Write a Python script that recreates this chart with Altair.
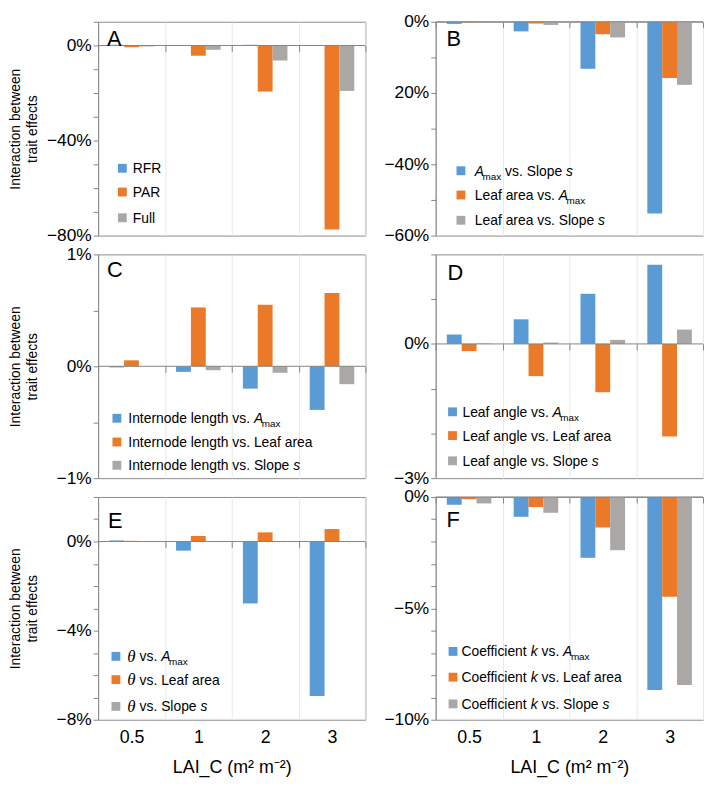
import altair as alt
import pandas as pd

# ---------------- data (values in %) ----------------
lai_labels = ["0.5", "1", "2", "3"]
series_keys = ["s1", "s2", "s3"]
series_colors = ["#5b9bd5", "#ea7a28", "#aaa7a5"]

a_rfr = [0.3, 0.2, 0.3, 0.1]
a_par = [-0.7, -4.3, -19.4, -77.4]
a_full = [-0.4, -1.8, -6.3, -19.1]

b_amax_slope = [-0.6, -2.7, -13.2, -53.8]
b_area_amax = [-0.2, -0.5, -3.5, -15.8]
b_area_slope = [-0.2, -0.9, -4.4, -17.7]

c_il_amax = [-0.01, -0.05, -0.2, -0.39]
c_il_area = [0.053, 0.526, 0.55, 0.655]
c_il_slope = [0.0, -0.035, -0.058, -0.16]

d_la_amax = [0.21, 0.55, 1.12, 1.77]
d_la_area = [-0.16, -0.72, -1.08, -2.07]
d_la_slope = [0.01, 0.03, 0.09, 0.32]

e_th_amax = [0.05, -0.41, -2.78, -6.94]
e_th_area = [0.03, 0.25, 0.41, 0.56]
e_th_slope = [0.0, 0.0, 0.0, 0.0]

f_k_amax = [-0.35, -0.89, -2.73, -8.66]
f_k_area = [-0.1, -0.45, -1.37, -4.48]
f_k_slope = [-0.29, -0.71, -2.39, -8.44]

y_title = ["Interaction between", "trait effects"]
x_title = "LAI_C (m² m⁻²)"

# ---------------- styling ----------------
FRAME = "#8c8c8c"
GRAY = "#858585"
GRID = "#e8e8e8"
W = 270

AW = {' ': 278, '.': 278, 'A': 667, 'C': 722, 'F': 611, 'I': 278, 'L': 556, 'P': 667,
      'R': 722, 'S': 667, 'a': 556, 'c': 500, 'd': 556, 'e': 556, 'f': 278, 'g': 556,
      'h': 556, 'i': 222, 'k': 500, 'l': 222, 'm': 833, 'n': 556, 'o': 556, 'p': 556,
      'r': 333, 's': 500, 't': 278, 'u': 556, 'v': 500, 'x': 500}
STYLE = {
    'n': dict(size=14, dy=5, font='Liberation Sans', fontStyle='normal'),
    'i': dict(size=14, dy=5, font='Liberation Sans', fontStyle='italic'),
    'sub': dict(size=10, dy=9, font='Liberation Sans', fontStyle='normal'),
    'th': dict(size=17, dy=5.5, font='Liberation Serif', fontStyle='italic'),
}


def seg_width(style, s):
    if style == 'th':
        return 8.5 * len(s)
    return sum(AW.get(c, 556) for c in s) * STYLE[style]['size'] / 1000


PANELS = {
    'A': dict(vals=[a_rfr, a_par, a_full], lo=-80, hi=10, step=10,
              labels={0: '0%', -40: '−40%', -80: '−80%'}, H=216, letter=(9, 24),
              lg_sx=24.5, lg_tx=35, lg_rows=[68, 44, 18],
              legend=[[('n', 'RFR')], [('n', 'PAR')], [('n', 'Full')]]),
    'B': dict(vals=[b_amax_slope, b_area_amax, b_area_slope], lo=-60, hi=0, step=10,
              labels={0: '0%', -20: '20%', -40: '−40%', -60: '−60%'}, H=216, letter=(11, 24),
              lg_sx=25.5, lg_tx=39.5, lg_rows=[65.5, 41, 15.5],
              legend=[[('i', 'A'), ('sub', 'max'), ('n', ' vs. Slope '), ('i', 's')],
                      [('n', 'Leaf area vs. '), ('i', 'A'), ('sub', 'max')],
                      [('n', 'Leaf area vs. Slope '), ('i', 's')]]),
    'C': dict(vals=[c_il_amax, c_il_area, c_il_slope], lo=-1, hi=1, step=0.5,
              labels={1: '1%', 0: '0%', -1: '−1%'}, H=226, letter=(9, 23),
              lg_sx=19, lg_tx=30.5, lg_rows=[60.5, 36.5, 13],
              legend=[[('n', 'Internode length vs. '), ('i', 'A'), ('sub', 'max')],
                      [('n', 'Internode length vs. Leaf area')],
                      [('n', 'Internode length vs. Slope '), ('i', 's')]]),
    'D': dict(vals=[d_la_amax, d_la_area, d_la_slope], lo=-3, hi=2, step=1,
              labels={0: '0%', -3: '−3%'}, H=226, letter=(12, 26),
              lg_sx=17, lg_tx=27, lg_rows=[67, 43, 17.5],
              legend=[[('n', 'Leaf angle vs. '), ('i', 'A'), ('sub', 'max')],
                      [('n', 'Leaf angle vs. Leaf area')],
                      [('n', 'Leaf angle vs. Slope '), ('i', 's')]]),
    'E': dict(vals=[e_th_amax, e_th_area, e_th_slope], lo=-8, hi=2, step=1,
              labels={0: '0%', -4: '−4%', -8: '−8%'}, H=225, letter=(10, 31),
              lg_sx=18, lg_tx=29.5, lg_rows=[64, 40.5, 13.5],
              legend=[[('th', 'θ'), ('n', ' vs. '), ('i', 'A'), ('sub', 'max')],
                      [('th', 'θ'), ('n', ' vs. Leaf area')],
                      [('th', 'θ'), ('n', ' vs. Slope '), ('i', 's')]]),
    'F': dict(vals=[f_k_amax, f_k_area, f_k_slope], lo=-10, hi=0, step=1,
              labels={0: '0%', -5: '−5%', -10: '−10%'}, H=225, letter=(11, 30),
              lg_sx=17.5, lg_tx=26, lg_rows=[69, 43, 16],
              legend=[[('n', 'Coefficient '), ('i', 'k'), ('n', ' vs. '), ('i', 'A'), ('sub', 'max')],
                      [('n', 'Coefficient '), ('i', 'k'), ('n', ' vs. Leaf area')],
                      [('n', 'Coefficient '), ('i', 'k'), ('n', ' vs. Slope '), ('i', 's')]]),
}


def make_panel(pid, left_col, bottom_row):
    cfg = PANELS[pid]
    H = cfg['H']
    lo, hi, step = cfg['lo'], cfg['hi'], cfg['step']

    rows = []
    for k, vals in zip(series_keys, cfg['vals']):
        for lab, v in zip(lai_labels, vals):
            rows.append({'lai': lab, 'series': k, 'value': v})
    df = pd.DataFrame(rows)

    n = int(round((hi - lo) / step))
    tick_vals = [lo + i * step for i in range(n + 1)]
    parts = [f"abs(datum.value - ({v})) < 0.001 ? '{s}'" for v, s in cfg['labels'].items()]
    label_expr = " : ".join(parts) + " : ''"

    yscale = alt.Scale(domain=[lo, hi], nice=False, zero=False)
    xscale = alt.Scale(domain=lai_labels, paddingInner=0, paddingOuter=0)

    yaxis_kw = dict(orient='left', values=tick_vals, labelExpr=label_expr, labelFontSize=17.5,
                    labelColor='black', labelPadding=2, labelOverlap=False, ticks=True,
                    tickSize=5, tickWidth=1, tickColor=GRAY, domain=True, domainColor=GRAY,
                    grid=False)
    if left_col:
        yaxis_kw.update(title=y_title, titleFontSize=14, titleFontWeight='normal',
                        titleColor='black', titleX=-90, titleY=H / 2, titleAngle=270,
                        titleAlign='center', titleBaseline='top', titleLineHeight=17)
    else:
        yaxis_kw.update(title=None)

    xaxis_kw = dict(orient='bottom', grid=True, gridColor=GRID, tickBand='extent', ticks=False,
                    tickSize=0, domain=False, labels=bottom_row, labelAngle=0,
                    labelFontSize=18, labelColor='black', labelPadding=9)
    if bottom_row:
        xaxis_kw.update(title=x_title, titleFontSize=18, titleFontWeight='normal',
                        titleColor='black', titlePadding=12)
    else:
        xaxis_kw.update(title=None)

    bars = alt.Chart(df).mark_bar().encode(
        x=alt.X('lai:N', sort=lai_labels, scale=xscale, axis=alt.Axis(**xaxis_kw)),
        xOffset=alt.XOffset('series:N', sort=series_keys,
                            scale=alt.Scale(domain=series_keys, paddingInner=0, paddingOuter=0.75)),
        y=alt.Y('value:Q', scale=yscale, axis=alt.Axis(**yaxis_kw), stack=None),
        y2=alt.datum(0),
        color=alt.Color('series:N', scale=alt.Scale(domain=series_keys, range=series_colors),
                        legend=None),
    )

    zero = alt.Chart(pd.DataFrame({'z': [0]})).mark_rule(color=GRAY, strokeWidth=1).encode(
        y=alt.Y('z:Q', scale=yscale, axis=None)
    )

    zero_px = H * (hi - 0) / (hi - lo)
    tick_axis = alt.Chart(pd.DataFrame({'lai': lai_labels})).mark_point(opacity=0).encode(
        x=alt.X('lai:N', sort=lai_labels, scale=xscale,
                axis=alt.Axis(orient='bottom', offset=-(H - zero_px), grid=False, labels=False,
                              domain=False, ticks=True, tickBand='extent', tickSize=6,
                              tickColor=GRAY, title=None)),
        y=alt.value(0),
    )

    letter = alt.Chart(pd.DataFrame({'t': [pid]})).mark_text(
        align='left', baseline='alphabetic', fontSize=22, color='black'
    ).encode(x=alt.value(cfg['letter'][0]), y=alt.value(cfg['letter'][1]), text='t:N')

    # legend (custom, to allow italics and subscripts)
    sq, segs = [], []
    for r, entry in enumerate(cfg['legend']):
        cy = H - cfg['lg_rows'][r]
        sq.append({'px': cfg['lg_sx'], 'py': cy, 'col': series_colors[r]})
        cur = cfg['lg_tx']
        for style, txt in entry:
            if style == 'sub':
                cur -= 1.5
            lead = len(txt) - len(txt.lstrip(' '))
            segs.append({'px': cur + seg_width(style, ' ' * lead),
                         'py': cy + STYLE[style]['dy'], 'text': txt.strip(), 'style': style})
            cur += seg_width(style, txt)
    sqdf = pd.DataFrame(sq)
    segdf = pd.DataFrame(segs)

    squares = alt.Chart(sqdf).mark_square(size=80, opacity=1).encode(
        x=alt.X('px:Q', scale=None, axis=None),
        y=alt.Y('py:Q', scale=None, axis=None),
        color=alt.Color('col:N', scale=None),
    )

    texts = []
    for st in ['n', 'i', 'sub', 'th']:
        sub = segdf[segdf['style'] == st]
        if len(sub) == 0:
            continue
        s = STYLE[st]
        texts.append(alt.Chart(sub).mark_text(
            align='left', baseline='alphabetic', fontSize=s['size'], font=s['font'],
            fontStyle=s['fontStyle'], color='black'
        ).encode(
            x=alt.X('px:Q', scale=None, axis=None),
            y=alt.Y('py:Q', scale=None, axis=None),
            text='text:N',
        ))

    return alt.layer(bars, zero, tick_axis, letter, squares, *texts).resolve_scale(
        x='independent', y='independent', color='independent'
    ).resolve_axis(x='independent', y='independent').properties(width=W, height=H)


chart = alt.concat(
    make_panel('A', True, False), make_panel('B', False, False),
    make_panel('C', True, False), make_panel('D', False, False),
    make_panel('E', True, True), make_panel('F', False, True),
    columns=2, spacing={'row': 19, 'column': 71}, bounds='flush'
).properties(
    padding=0, background='white'
).configure(font='Liberation Sans').configure_view(stroke=FRAME, strokeWidth=1)

chart.save("out.html", embed_options={"renderer": "svg", "actions": False})
